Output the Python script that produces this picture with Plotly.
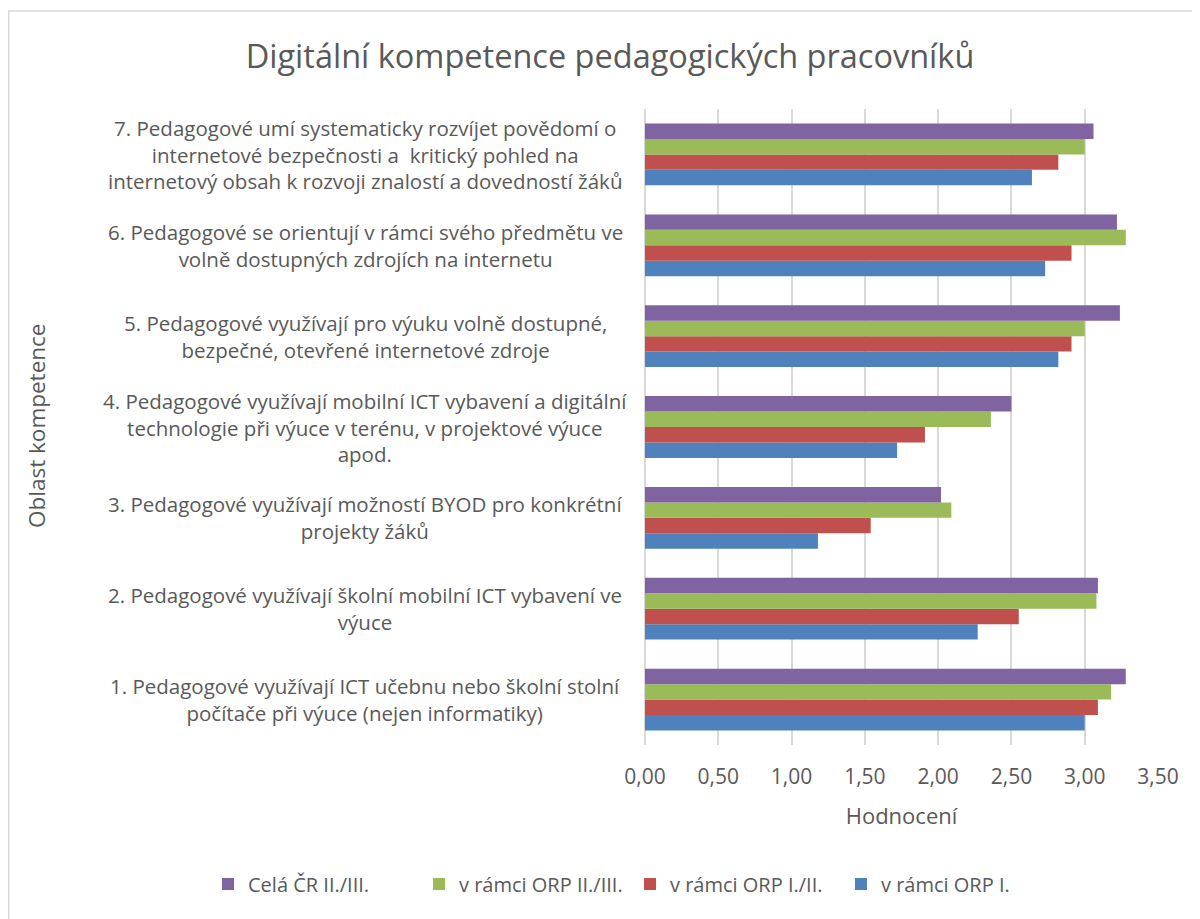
import plotly.graph_objects as go

categories = [
    "1. Pedagogové využívají ICT učebnu nebo školní stolní<br>počítače při výuce (nejen informatiky)",
    "2. Pedagogové využívají školní mobilní ICT vybavení ve<br>výuce",
    "3. Pedagogové využívají možností BYOD pro konkrétní<br>projekty žáků",
    "4. Pedagogové využívají mobilní ICT vybavení a digitální<br>technologie při výuce v terénu, v projektové výuce<br>apod.",
    "5. Pedagogové využívají pro výuku volně dostupné,<br>bezpečné, otevřené internetové zdroje",
    "6. Pedagogové se orientují v rámci svého předmětu ve<br>volně dostupných zdrojích na internetu",
    "7. Pedagogové umí systematicky rozvíjet povědomí o<br>internetové bezpečnosti a  kritický pohled na<br>internetový obsah k rozvoji znalostí a dovedností žáků",
]

orp_1 = [3.00, 2.27, 1.18, 1.72, 2.82, 2.73, 2.64]
orp_1_2 = [3.09, 2.55, 1.54, 1.91, 2.91, 2.91, 2.82]
orp_2_3 = [3.18, 3.08, 2.09, 2.36, 3.00, 3.28, 3.00]
cr_2_3 = [3.28, 3.09, 2.02, 2.50, 3.24, 3.22, 3.06]

series_names = ["v rámci ORP I.", "v rámci ORP I./II.", "v rámci ORP II./III.", "Celá ČR II./III."]
series_values = [orp_1, orp_1_2, orp_2_3, cr_2_3]
series_colors = ["#4F81BD", "#C0504D", "#9BBB59", "#8064A2"]

x_ticks = [0, 0.5, 1.0, 1.5, 2.0, 2.5, 3.0, 3.5]

FONT = "Open Sans"
TXT = "#595959"

# page offset of the figure div (browser body margin)
OFF = 8
W, H = 1200, 919
ML = 645 - OFF
MT = 109 - OFF
MR = W - (1158 - OFF)
MB = H - (745 - OFF)
PW = W - ML - MR
PH = H - MT - MB


def px_x(px):
    """reference pixel x -> paper x"""
    return (px - OFF - ML) / PW


def px_y(py):
    """reference pixel y -> paper y"""
    return 1 - (py - OFF - MT) / PH


fig = go.Figure()
for name, vals, col in zip(series_names, series_values, series_colors):
    fig.add_trace(go.Bar(
        y=categories, x=vals, name=name, orientation="h",
        marker=dict(color=col, line=dict(width=0)),
    ))

annotations = []
for c in categories:
    annotations.append(dict(
        x=px_x(365), xref="paper", y=c, yref="y",
        text=c, showarrow=False, xanchor="center", yanchor="middle",
        align="center", font=dict(family=FONT, size=20.5, color=TXT),
    ))
annotations.append(dict(
    x=px_x(36), xref="paper", y=px_y(426), yref="paper",
    text="Oblast kompetence", textangle=-90, showarrow=False,
    xanchor="center", yanchor="middle",
    font=dict(family=FONT, size=22.5, color=TXT),
))

fig.update_layout(
    width=W, height=H,
    margin=dict(l=ML, r=MR, t=MT, b=MB),
    paper_bgcolor="white", plot_bgcolor="white",
    separators=", ",
    barmode="group", bargap=0.32, bargroupgap=0,
    title=dict(text="Digitální kompetence pedagogických pracovníků",
               x=(610 - OFF) / W, xanchor="center", y=1 - (57 - OFF) / H, yanchor="middle",
               font=dict(family=FONT, size=32.5, color=TXT)),
    font=dict(family=FONT, color=TXT),
    xaxis=dict(range=[0, 3.5], tickvals=x_ticks, tickformat=".2f",
               showgrid=True, gridcolor="#D9D9D9", gridwidth=1.5,
               zeroline=True, zerolinecolor="#D9D9D9", zerolinewidth=1.5,
               showline=False, ticks="", ticklabelstandoff=17,
               tickfont=dict(family=FONT, size=21, color=TXT),
               title=dict(text="Hodnocení", standoff=19,
                          font=dict(family=FONT, size=22, color=TXT)),
               fixedrange=True),
    yaxis=dict(showticklabels=False, showgrid=False, zeroline=False,
               showline=False, ticks=""),
    legend=dict(orientation="h", x=px_x(208), xref="paper", xanchor="left",
                y=px_y(884), yref="paper", yanchor="middle",
                traceorder="reversed",
                font=dict(family=FONT, size=20, color=TXT),
                itemwidth=30, entrywidth=166, entrywidthmode="pixels"),
    annotations=annotations,
    shapes=[dict(type="rect", xref="paper", yref="paper",
                 x0=px_x(8.75), x1=px_x(1230),
                 y0=px_y(960), y1=px_y(11),
                 line=dict(color="#D9D9D9", width=1.5), fillcolor="rgba(0,0,0,0)",
                 layer="below")],
)

fig.write_html("out.html")
